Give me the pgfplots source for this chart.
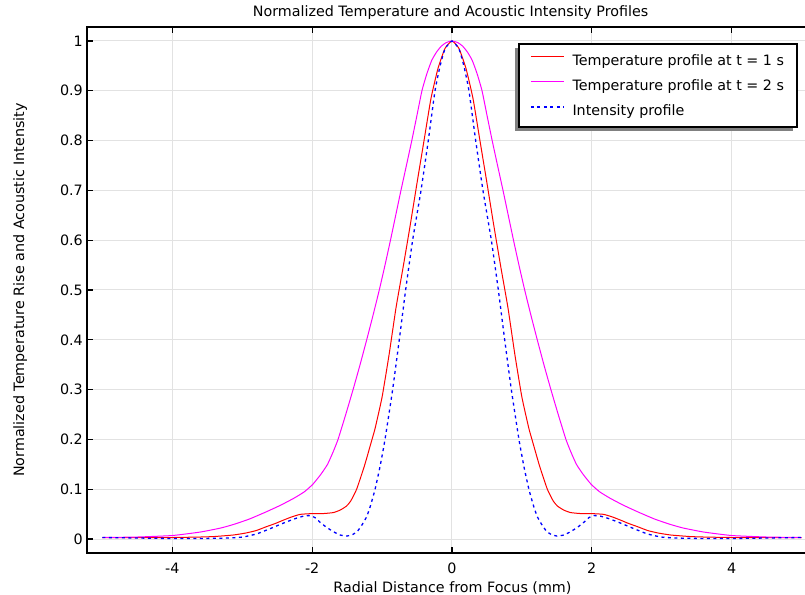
\documentclass[border=0pt]{standalone}
\usepackage{fontspec}
\setmainfont{DejaVu Sans}
\usepackage{pgfplots}
\usepackage{pgfplotstable}
\pgfplotsset{compat=1.18}
\definecolor{cRed}{RGB}{255,0,0}
\definecolor{cMag}{RGB}{255,0,255}
\definecolor{cBlue}{RGB}{0,0,255}
\definecolor{cGrid}{RGB}{226,226,226}
\definecolor{cShadow}{RGB}{128,128,128}
\newcommand{\ff}{\fontsize{14.3bp}{17bp}\selectfont}

\pgfplotstableread{
x y
-5.0 0.003
-4.5 0.003
-4.0 0.003
-3.6 0.004
-3.4 0.005
-3.13 0.008
-2.95 0.012
-2.8 0.017
-2.65 0.025
-2.53 0.031
-2.41 0.038
-2.3 0.044
-2.17 0.0495
-2.0 0.051
-1.85 0.051
-1.70 0.053
-1.6 0.058
-1.51 0.066
-1.45 0.076
-1.364 0.1
-1.25 0.148
-1.144 0.2
-1.1 0.222
-1.0 0.285
-0.9 0.37
-0.8 0.465
-0.7 0.545
-0.6 0.628
-0.5 0.715
-0.4 0.80
-0.3 0.885
-0.2 0.945
-0.1 0.985
0 1.0
0.1 0.985
0.2 0.945
0.3 0.885
0.4 0.80
0.5 0.715
0.6 0.628
0.7 0.545
0.8 0.465
0.9 0.37
1.0 0.285
1.1 0.222
1.144 0.2
1.25 0.148
1.364 0.1
1.45 0.076
1.51 0.066
1.6 0.058
1.70 0.053
1.85 0.051
2.0 0.051
2.17 0.0495
2.3 0.044
2.41 0.038
2.53 0.031
2.65 0.025
2.8 0.017
2.95 0.012
3.13 0.008
3.4 0.005
3.6 0.004
4.0 0.003
4.5 0.003
5.0 0.003
}\Tone

\pgfplotstableread{
x y
-5.0 0.003
-4.5 0.004
-4.0 0.007
-3.6 0.014
-3.31 0.022
-3.13 0.029
-2.9 0.040
-2.65 0.055
-2.45 0.068
-2.26 0.082
-2.11 0.095
-1.99 0.11
-1.875 0.13
-1.78 0.15
-1.70 0.175
-1.63 0.2
-1.52 0.25
-1.415 0.3
-1.315 0.35
-1.22 0.4
-1.128 0.45
-1.04 0.5
-0.958 0.55
-0.88 0.6
-0.805 0.65
-0.73 0.7
-0.652 0.75
-0.575 0.8
-0.502 0.85
-0.43 0.9
-0.36 0.934
-0.29 0.961
-0.22 0.978
-0.15 0.99
-0.08 0.997
0 1.0
0.08 0.997
0.15 0.99
0.22 0.978
0.29 0.961
0.36 0.934
0.43 0.9
0.502 0.85
0.575 0.8
0.652 0.75
0.73 0.7
0.805 0.65
0.88 0.6
0.958 0.55
1.04 0.5
1.128 0.45
1.22 0.4
1.315 0.35
1.415 0.3
1.52 0.25
1.63 0.2
1.70 0.175
1.78 0.15
1.875 0.13
1.99 0.11
2.11 0.095
2.26 0.082
2.45 0.068
2.65 0.055
2.9 0.040
3.13 0.029
3.31 0.022
3.6 0.014
4.0 0.007
4.5 0.004
5.0 0.003
}\Ttwo

\pgfplotstableread{
x y
-5.0 0.003
-4.5 0.002
-4.0 0.001
-3.6 0.001
-3.2 0.002
-2.99 0.004
-2.8 0.010
-2.65 0.018
-2.53 0.025
-2.41 0.032
-2.30 0.038
-2.20 0.043
-2.12 0.046
-2.03 0.047
-1.96 0.043
-1.89 0.034
-1.80 0.024
-1.70 0.015
-1.60 0.008
-1.50 0.006
-1.42 0.009
-1.35 0.016
-1.28 0.030
-1.22 0.045
-1.17 0.065
-1.10 0.1
-1.03 0.145
-0.958 0.2
-0.849 0.3
-0.754 0.4
-0.663 0.5
-0.563 0.6
-0.443 0.7
-0.339 0.8
-0.243 0.9
-0.17 0.95
-0.1 0.984
0 1.0
0.1 0.984
0.17 0.95
0.243 0.9
0.339 0.8
0.443 0.7
0.563 0.6
0.663 0.5
0.754 0.4
0.849 0.3
0.958 0.2
1.03 0.145
1.10 0.1
1.17 0.065
1.22 0.045
1.28 0.030
1.35 0.016
1.42 0.009
1.50 0.006
1.60 0.008
1.70 0.015
1.80 0.024
1.89 0.034
1.96 0.043
2.03 0.047
2.12 0.046
2.20 0.043
2.30 0.038
2.41 0.032
2.53 0.025
2.65 0.018
2.8 0.010
2.99 0.004
3.2 0.002
3.6 0.001
4.0 0.001
4.5 0.002
5.0 0.003
}\Int

\begin{document}
\begin{tikzpicture}
\begin{axis}[
  name=ax, at={(0,0)}, anchor=south west,
  scale only axis, width=720bp, height=526bp,
  xmin=-5.2213, xmax=5.0787, ymin=-0.0281, ymax=1.0281,
  xtick={-4,-2,0,2,4}, xticklabels={-4,-2,0,2,4},
  ytick={0,0.1,0.2,0.3,0.4,0.5,0.6,0.7,0.8,0.9,1},
  yticklabels={0,0.1,0.2,0.3,0.4,0.5,0.6,0.7,0.8,0.9,1},
  xtick pos=both, ytick pos=left,
  tick align=inside, major tick length=6bp,
  grid=major, major grid style={color=cGrid, line width=1bp},
  axis line style={line width=1.2bp, black},
  every tick/.style={black, line width=1.2bp},
  tick label style={font=\ff},
  xticklabel style={anchor=base, yshift=-20.5bp},
  yticklabel style={anchor=east, inner sep=0pt, xshift=-4bp},
  every axis title shift=0pt,
  title={Normalized Temperature and Acoustic Intensity Profiles},
  title style={font=\ff, at={(axis description cs:0.505,1)}, anchor=base, yshift=10bp},
  xlabel={Radial Distance from Focus (mm)},
  xlabel style={font=\ff, at={(axis description cs:0.5076,0)}, anchor=base, yshift=-39bp},
  ylabel={Normalized Temperature Rise and Acoustic Intensity},
  ylabel style={font=\ff, at={(axis description cs:-0.0875,0.5)}, anchor=base},
  legend cell align=left,
  legend image code/.code={\draw[#1] (0bp,4.5bp) -- (33bp,4.5bp);},
  legend style={font=\ff, at={(axis description cs:0.6,0.9677)}, anchor=north west,
    draw=none, fill=none, inner xsep=11bp, inner ysep=8.5bp,
    row sep=7.5bp, column sep=6bp,
    nodes={inner sep=2bp, text height=10.5bp, text depth=3bp}},
]
\addplot[cRed, line width=1bp, smooth, tension=0.3] table {\Tone};
\addlegendentry{Temperature profile at t = 1 s}
\addplot[cMag, line width=1bp, smooth, tension=0.3] table {\Ttwo};
\addlegendentry{Temperature profile at t = 2 s}
\addplot[cBlue, line width=1.3bp, dash pattern=on 3bp off 3.5bp, smooth, tension=0.3] table {\Int};
\addlegendentry{Intensity profile}
\fill[cShadow] (axis description cs:0.5944,0.8023) rectangle (axis description cs:0.9806,0.9601);
\filldraw[fill=white, draw=black, line width=1.2bp] (axis description cs:0.6,0.8099) rectangle (axis description cs:0.9861,0.9677);
\end{axis}
\pgfresetboundingbox
\path[use as bounding box] (-87bp,-42bp) rectangle (718bp,553bp);
\end{tikzpicture}
\end{document}
